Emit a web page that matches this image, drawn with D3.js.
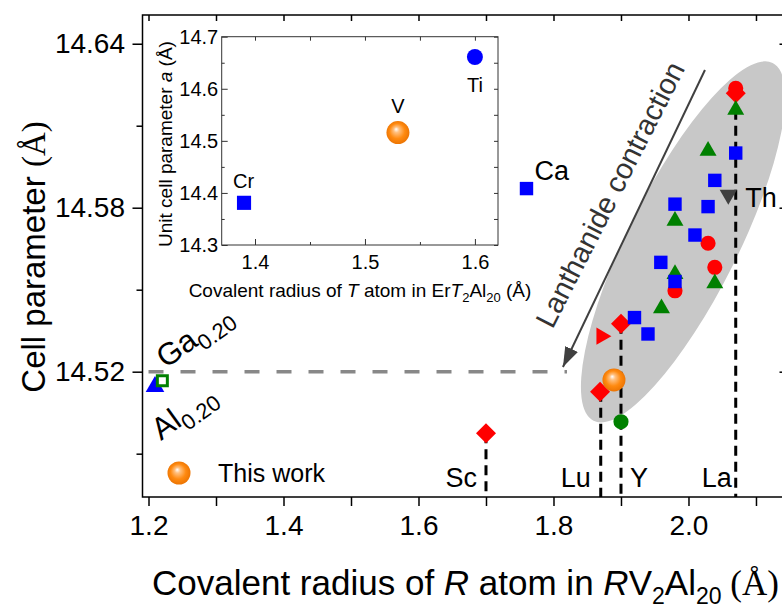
<!DOCTYPE html>
<html>
<head>
<meta charset="utf-8">
<script src="https://cdn.jsdelivr.net/npm/d3@7"></script>
<style>
  body { margin: 0; background: #fff; }
  text { font-family: "Liberation Sans", Arial, sans-serif; }
  .serif { font-family: "Liberation Serif", "Times New Roman", serif; }
</style>
</head>
<body>
<svg></svg>
<script>
// ---- data ----
let blueSquares = [[1.76,14.587],[2.07,14.600],[2.039,14.590],[1.98,14.5813],[2.029,14.5804],[2.0096,14.570],[1.959,14.560],[1.98,14.553],[1.92,14.5398],[1.94,14.5338]]
let redCircles = [[2.07,14.6237],[2.029,14.567],[2.039,14.5582],[1.98,14.5496]]
let greenTriangles = [[2.07,14.6158],[2.029,14.6008],[1.98,14.5752],[1.98,14.5557],[2.039,14.5523],[1.96,14.5432]]
let redDiamonds = [[2.07,14.6219],[1.90,14.5375],[1.869,14.5127],[1.70,14.4975]]
let redRightTriangles = [[1.871,14.533]]
let greenCircles = [[1.90,14.5017]]
let grayDownTriangles = [[2.059,14.5847]]
let thisWork = [[1.8896,14.517]]
let alPoint = [[1.2096,14.5145]]
let gaPoint = [[1.2205,14.5167]]
let refLine = [[1.2,14.52],[1.82,14.52]]

let rLines = [
  {name:'Sc', x:1.70, top:14.4975},
  {name:'Lu', x:1.87, top:14.5127},
  {name:'Y', x:1.90, top:14.5375},
  {name:'La', x:2.07, top:14.6158}
]

let xTicksMain = [1.2,1.4,1.6,1.8,2.0]
let xMinorMain = [1.3,1.5,1.7,1.9,2.1]
let yTicksMain = [14.52,14.58,14.64]
let yMinorMain = [14.49,14.55,14.61]

let insetXTicks = [1.4,1.5,1.6]
let insetXMinor = [1.45,1.55]
let insetYTicks = [14.3,14.4,14.5,14.6,14.7]
let insetYMinor = [14.35,14.45,14.55,14.65]
let insetCr = [1.39,14.381]
let insetV = [1.53,14.516]
let insetTi = [1.60,14.661]

let ellipseCenter = [1.992,14.5675]
let arrowFrom = [2.0244,14.6304]
let arrowTo = [1.814,14.5217]

// ---- layout ----
let width = 782
let height = 609
let pLeft = 142.5, pRight = 787.5, pTop = 15, pBottom = 497

let svg = d3.select('svg').attr('width', width).attr('height', height)

let xScale = d3.scaleLinear().domain([1.1911, 2.1467]).range([pLeft, pRight])
let yScale = d3.scaleLinear().domain([14.47415, 14.65051]).range([pBottom, pTop])

let defs = svg.append('defs')
let grad = defs.append('radialGradient').attr('id', 'sphere')
  .attr('cx', '50%').attr('cy', '50%').attr('r', '55%')
  .attr('fx', '42%').attr('fy', '35%')
grad.append('stop').attr('offset', '0%').attr('stop-color', '#ffffff')
grad.append('stop').attr('offset', '22%').attr('stop-color', '#ffc080')
grad.append('stop').attr('offset', '60%').attr('stop-color', '#ff8a10')
grad.append('stop').attr('offset', '100%').attr('stop-color', '#e87000')

defs.append('marker').attr('id', 'head')
  .attr('markerUnits', 'userSpaceOnUse')
  .attr('markerWidth', 22).attr('markerHeight', 16)
  .attr('refX', 20).attr('refY', 7)
  .attr('orient', 'auto')
  .append('path').attr('d', 'M0,0 L20,7 L0,14 Z').attr('fill', '#404040')

// reference line at 14.52 (under the ellipse)
svg.append('path')
  .datum(refLine)
  .attr('d', d3.line().x(d => xScale(d[0])).y(d => yScale(d[1])))
  .attr('stroke', '#888').attr('stroke-width', 3.5)
  .attr('stroke-dasharray', '15,17').attr('fill', 'none')

// grey ellipse
svg.append('ellipse')
  .attr('cx', 0).attr('cy', 0).attr('rx', 200).attr('ry', 55)
  .attr('transform', 'translate(' + xScale(ellipseCenter[0]) + ',' + yScale(ellipseCenter[1]) + ') rotate(-63.4)')
  .attr('fill', '#c8c8c8')

// vertical dashed lines
svg.selectAll('.rline').data(rLines).enter().append('line')
  .attr('class', 'rline')
  .attr('x1', d => xScale(d.x)).attr('x2', d => xScale(d.x))
  .attr('y1', d => yScale(d.top)).attr('y2', pBottom)
  .attr('stroke', '#000').attr('stroke-width', 3)
  .attr('stroke-dasharray', '10,6')

let labelOffsets = {Sc: [-9, 'end'], Lu: [-10, 'end'], Y: [9, 'start'], La: [-4, 'end']}
svg.selectAll('.rlabel').data(rLines).enter().append('text')
  .attr('x', d => xScale(d.x) + labelOffsets[d.name][0])
  .attr('y', 487)
  .attr('text-anchor', d => labelOffsets[d.name][1])
  .attr('font-size', 27)
  .text(d => d.name)

// points
let drawSeries = (data, type, size, rot, fill, stroke, sw) => {
  svg.append('g').selectAll('path').data(data).enter().append('path')
    .attr('d', d3.symbol().type(type).size(size))
    .attr('transform', d => 'translate(' + xScale(d[0]) + ',' + yScale(d[1]) + ') rotate(' + rot + ')')
    .attr('fill', fill)
    .attr('stroke', stroke || 'none')
    .attr('stroke-width', sw || 0)
}

drawSeries(redDiamonds, d3.symbolSquare, 200, 45, '#ff0000')
drawSeries(redCircles, d3.symbolCircle, 180, 0, '#ff0000')
drawSeries(greenTriangles, d3.symbolTriangle, 125, 0, '#008000')
drawSeries(blueSquares, d3.symbolSquare, 180, 0, '#0000ff')
drawSeries(redRightTriangles, d3.symbolTriangle, 130, 90, '#ff0000')
drawSeries(greenCircles, d3.symbolCircle, 180, 0, '#008000')
drawSeries(grayDownTriangles, d3.symbolTriangle, 130, 180, '#404040')
drawSeries(alPoint, d3.symbolTriangle, 150, 0, '#0000ff')
drawSeries(gaPoint, d3.symbolSquare, 100, 0, '#ffffff', '#008000', 3)

svg.selectAll('.sphere').data(thisWork).enter().append('circle')
  .attr('cx', d => xScale(d[0])).attr('cy', d => yScale(d[1]))
  .attr('r', 11.5).attr('fill', 'url(#sphere)')

// labels Ca, Th
svg.append('text').attr('x', xScale(1.76) + 8).attr('y', 180).attr('font-size', 27).text('Ca')
svg.append('text').attr('x', xScale(2.059) + 17).attr('y', 207).attr('font-size', 27).text('Th')

// Ga / Al labels
let ga = svg.append('text').attr('transform', 'translate(166,369) rotate(-36)').attr('font-size', 31)
ga.append('tspan').text('Ga')
ga.append('tspan').attr('font-size', 22).attr('dy', 8).text('0.20')
let al = svg.append('text').attr('transform', 'translate(161,441) rotate(-36)').attr('font-size', 31)
al.append('tspan').text('Al')
al.append('tspan').attr('font-size', 22).attr('dy', 8).text('0.20')

// legend
svg.append('circle').attr('cx', 179).attr('cy', 473).attr('r', 11.5).attr('fill', 'url(#sphere)')
svg.append('text').attr('x', 218).attr('y', 482).attr('font-size', 25).text('This work')

// lanthanide arrow
svg.append('line')
  .attr('x1', xScale(arrowFrom[0])).attr('y1', yScale(arrowFrom[1]))
  .attr('x2', xScale(arrowTo[0])).attr('y2', yScale(arrowTo[1]))
  .attr('stroke', '#404040').attr('stroke-width', 2)
  .attr('marker-end', 'url(#head)')
svg.append('text')
  .attr('transform', 'translate(619,199) rotate(-63)')
  .attr('text-anchor', 'middle')
  .attr('font-size', 29).attr('fill', '#333')
  .text('Lanthanide contraction')

// ---- main axes ----
let styleAxis = (g) => {
  g.select('.domain').remove()
  g.selectAll('line').attr('stroke', '#000').attr('stroke-width', 1.5)
  g.selectAll('text').attr('font-size', 28).attr('fill', '#000').attr('font-family', '"Liberation Sans", Arial, sans-serif')
}

svg.append('g').attr('transform', 'translate(' + pLeft + ',0)')
  .call(d3.axisLeft(yScale).tickValues(yTicksMain).tickSize(10).tickPadding(7.5).tickFormat(d3.format('.2f')))
  .call(styleAxis)
svg.append('g').attr('transform', 'translate(' + pLeft + ',0)')
  .call(d3.axisLeft(yScale).tickValues(yMinorMain).tickSize(6).tickFormat(''))
  .call(styleAxis)
svg.append('g').attr('transform', 'translate(0,' + pBottom + ')')
  .call(d3.axisBottom(xScale).tickValues(xTicksMain).tickSize(9).tickPadding(9).tickFormat(d3.format('.1f')))
  .call(styleAxis)
svg.append('g').attr('transform', 'translate(0,' + pBottom + ')')
  .call(d3.axisBottom(xScale).tickValues(xMinorMain).tickSize(9).tickFormat(''))
  .call(styleAxis)
svg.append('g').attr('transform', 'translate(0,' + pTop + ')')
  .call(d3.axisTop(xScale).tickValues(xTicksMain.concat(xMinorMain)).tickSize(-6).tickFormat(''))
  .call(styleAxis)
svg.append('g').attr('transform', 'translate(' + pRight + ',0)')
  .call(d3.axisRight(yScale).tickValues(yTicksMain).tickSize(-8).tickFormat(''))
  .call(styleAxis)

svg.append('rect')
  .attr('x', pLeft).attr('y', pTop).attr('width', pRight - pLeft).attr('height', pBottom - pTop)
  .attr('fill', 'none').attr('stroke', '#000').attr('stroke-width', 1.5)

// axis titles
let yt = svg.append('text').attr('transform', 'translate(45,257) rotate(-90)')
  .attr('text-anchor', 'middle').attr('font-size', 33)
yt.append('tspan').text('Cell parameter ')
yt.append('tspan').attr('class', 'serif').text('(Å)')

let xt = svg.append('text').attr('x', 152).attr('y', 595).attr('font-size', 35)
xt.append('tspan').text('Covalent radius of ')
xt.append('tspan').attr('font-style', 'italic').text('R')
xt.append('tspan').text(' atom in ')
xt.append('tspan').attr('font-style', 'italic').text('R')
xt.append('tspan').text('V')
xt.append('tspan').attr('font-size', 23).attr('dy', 9).text('2')
xt.append('tspan').attr('dy', -9).text('Al')
xt.append('tspan').attr('font-size', 23).attr('dy', 9).text('20')
xt.append('tspan').attr('dy', -9).attr('class', 'serif').text(' (Å)')

// ---- inset ----
let iL = 221.7, iR = 498, iT = 36.7, iB = 245
let xIn = d3.scaleLinear().domain([1.3697, 1.621]).range([iL, iR])
let yIn = d3.scaleLinear().domain([14.3, 14.7]).range([iB, iT])

let inset = svg.append('g')
inset.append('rect').attr('x', iL).attr('y', iT).attr('width', iR - iL).attr('height', iB - iT)
  .attr('fill', '#fff')

let styleInset = (g) => {
  g.select('.domain').remove()
  g.selectAll('line').attr('stroke', '#333').attr('stroke-width', 1)
  g.selectAll('text').attr('font-size', 20).attr('fill', '#000').attr('font-family', '"Liberation Sans", Arial, sans-serif')
}
inset.append('g').attr('transform', 'translate(0,' + iB + ')')
  .call(d3.axisBottom(xIn).tickValues(insetXTicks).tickSize(-6).tickPadding(10).tickFormat(d3.format('.1f')))
  .call(styleInset)
inset.append('g').attr('transform', 'translate(0,' + iB + ')')
  .call(d3.axisBottom(xIn).tickValues(insetXMinor).tickSize(-3).tickFormat(''))
  .call(styleInset)
inset.append('g').attr('transform', 'translate(0,' + iT + ')')
  .call(d3.axisTop(xIn).tickValues(insetXTicks.concat(insetXMinor)).tickSize(-4).tickFormat(''))
  .call(styleInset)
inset.append('g').attr('transform', 'translate(' + iL + ',0)')
  .call(d3.axisLeft(yIn).tickValues(insetYTicks).tickSize(-6).tickPadding(3.5).tickFormat(d3.format('.1f')))
  .call(styleInset)
inset.append('g').attr('transform', 'translate(' + iL + ',0)')
  .call(d3.axisLeft(yIn).tickValues(insetYMinor).tickSize(-3).tickFormat(''))
  .call(styleInset)
inset.append('g').attr('transform', 'translate(' + iR + ',0)')
  .call(d3.axisRight(yIn).tickValues(insetYTicks.concat(insetYMinor)).tickSize(-4).tickFormat(''))
  .call(styleInset)
inset.append('rect').attr('x', iL).attr('y', iT).attr('width', iR - iL).attr('height', iB - iT)
  .attr('fill', 'none').attr('stroke', '#333').attr('stroke-width', 1)

inset.append('path')
  .attr('d', d3.symbol().type(d3.symbolSquare).size(200))
  .attr('transform', 'translate(' + xIn(insetCr[0]) + ',' + yIn(insetCr[1]) + ')')
  .attr('fill', '#0000ff')
inset.append('circle').attr('cx', xIn(insetV[0])).attr('cy', yIn(insetV[1])).attr('r', 11.5).attr('fill', 'url(#sphere)')
inset.append('circle').attr('cx', xIn(insetTi[0])).attr('cy', yIn(insetTi[1])).attr('r', 8).attr('fill', '#0000ff')

inset.append('text').attr('x', xIn(insetCr[0]) - 11).attr('y', 188).attr('font-size', 20).text('Cr')
inset.append('text').attr('x', xIn(insetV[0])).attr('y', 113).attr('text-anchor', 'middle').attr('font-size', 20).text('V')
inset.append('text').attr('x', xIn(insetTi[0])).attr('y', 92).attr('text-anchor', 'middle').attr('font-size', 20).text('Ti')

let ixt = inset.append('text').attr('x', 360).attr('y', 297).attr('text-anchor', 'middle').attr('font-size', 19)
ixt.append('tspan').text('Covalent radius of ')
ixt.append('tspan').attr('font-style', 'italic').text('T')
ixt.append('tspan').text(' atom in Er')
ixt.append('tspan').attr('font-style', 'italic').text('T')
ixt.append('tspan').attr('font-size', 13).attr('dy', 5).text('2')
ixt.append('tspan').attr('dy', -5).text('Al')
ixt.append('tspan').attr('font-size', 13).attr('dy', 5).text('20')
ixt.append('tspan').attr('dy', -5).text(' (Å)')

let iyt = inset.append('text').attr('transform', 'translate(172,144) rotate(-90)').attr('text-anchor', 'middle').attr('font-size', 19)
iyt.append('tspan').text('Unit cell parameter ')
iyt.append('tspan').attr('font-style', 'italic').text('a')
iyt.append('tspan').text(' (Å)')
</script>
</body>
</html>
